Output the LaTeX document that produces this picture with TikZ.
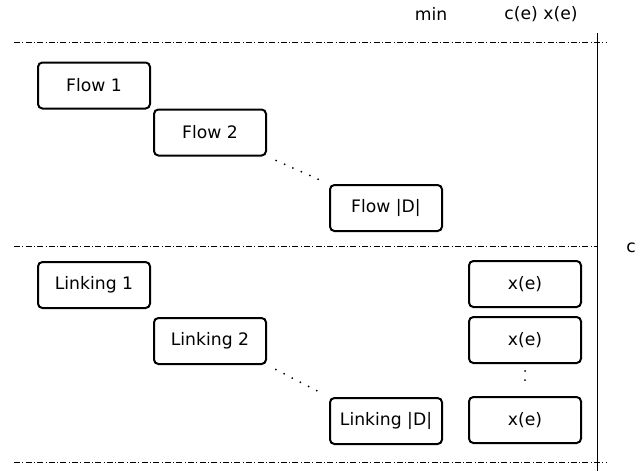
\documentclass[tikz,border=0pt]{standalone}
\usepackage{fontspec}
\setmainfont{DejaVu Sans}
\begin{document}
\begin{tikzpicture}[x=0.5pt,y=-0.5pt,
  box/.style={draw,line width=1pt,rounded corners=2.2pt,minimum width=56pt,minimum height=23pt,inner sep=0pt,font=\fontsize{8.6}{10}\selectfont},
  sep/.style={line width=0.4pt,dash pattern=on 3pt off 1.2pt on 0.4pt off 1.2pt},
  dots/.style={line width=1pt,line cap=round,dash pattern=on 0pt off 4.6pt},
  lbl/.style={font=\fontsize{8.6}{10}\selectfont,inner sep=0pt}]
\useasboundingbox (0,0) rectangle (641,471);
% labels
\node[lbl] (min) at (431,14) {min};
\node[lbl] (cx) at (541,14) {c(e) x(e)};
\node[lbl,anchor=west] (c) at (626,248) {c};
% separators
\coordinate (t1) at (14,42); \coordinate (t2) at (606,42);
\coordinate (m1) at (14,246); \coordinate (m2) at (597,246);
\coordinate (b1) at (14,462); \coordinate (b2) at (607,462);
\coordinate (v1) at (597,33); \coordinate (v2) at (597,471);
\draw[sep] (t1) -- (t2);
\draw[sep] (m1) -- (m2);
\draw[sep] (b1) -- (b2);
\draw[line width=0.5pt] (v1) -- (v2);
% boxes
\node[box] (f1) at (94,85.5) {Flow 1};
\node[box] (f2) at (210,132.5) {Flow 2};
\node[box] (fd) at (386,208) {Flow |D|};
\node[box] (l1) at (94,285) {Linking 1};
\node[box] (l2) at (210,341) {Linking 2};
\node[box] (ld) at (386,421) {Linking |D|};
\node[box] (x1) at (525,284) {x(e)};
\node[box] (x2) at (525,340) {x(e)};
\node[box] (x3) at (525,420) {x(e)};
% dotted connectors
\draw[dots,shorten <=5pt,shorten >=4pt] (f2.south east) -- (fd.north west);
\draw[dots,shorten <=5pt,shorten >=4pt] (l2.south east) -- (ld.north west);
\draw[dots,shorten <=3.5pt,shorten >=3.5pt] (x2.south) -- (x3.north);
\end{tikzpicture}
\end{document}
